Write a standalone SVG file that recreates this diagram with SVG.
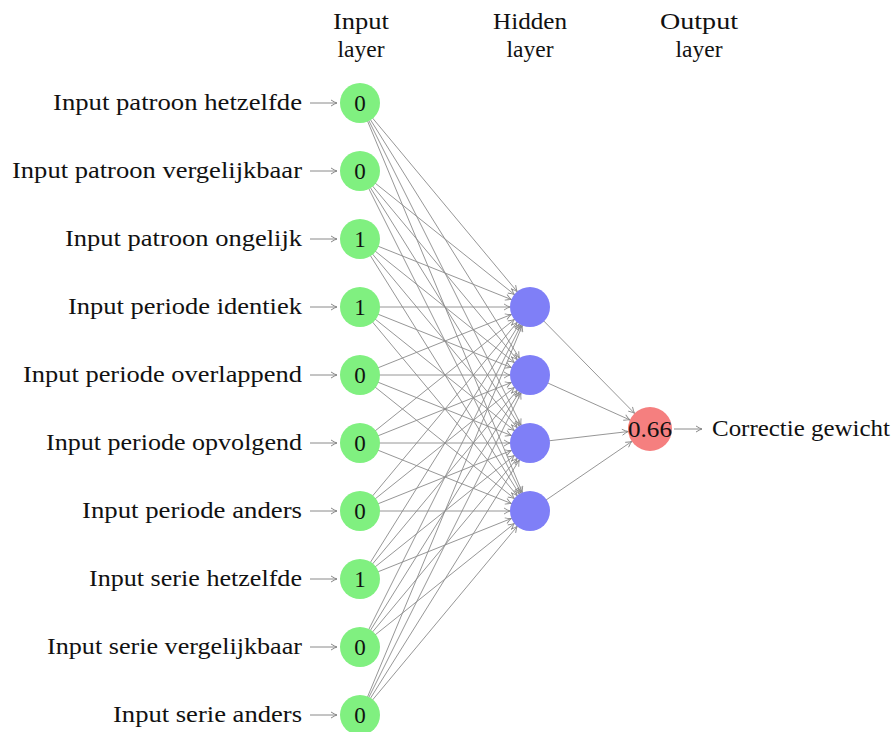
<svg xmlns="http://www.w3.org/2000/svg" width="896" height="732" viewBox="0 0 896 732">
<style>
text{font-family:"Liberation Serif","DejaVu Serif",serif;fill:#111;}
.lbl{font-size:23px;text-anchor:end;}
.hdr{font-size:23px;text-anchor:middle;}
.val{font-size:23px;text-anchor:middle;}
.e{stroke:#8a8a8a;stroke-width:0.9;fill:none;marker-end:url(#ah);}
.eo{stroke:#8a8a8a;stroke-width:0.9;fill:none;marker-end:url(#ah2);}
.io{stroke:#8a8a8a;stroke-width:1;fill:none;marker-end:url(#ah0);}
.in{fill:#80f080;}
.hid{fill:#7f7ff7;}
.out{fill:#f57f7f;}
</style>
<defs>
<marker id="ah" markerUnits="userSpaceOnUse" refX="20" refY="0" markerWidth="10" markerHeight="10" orient="auto" overflow="visible">
<path d="M-6,-3 Q-2,-0.5 0,0 Q-2,0.5 -6,3" fill="none" stroke="#8a8a8a" stroke-width="0.9"/>
</marker>
<marker id="ah2" markerUnits="userSpaceOnUse" refX="22" refY="0" markerWidth="10" markerHeight="10" orient="auto" overflow="visible">
<path d="M-6,-3 Q-2,-0.5 0,0 Q-2,0.5 -6,3" fill="none" stroke="#8a8a8a" stroke-width="0.9"/>
</marker>
<marker id="ah0" markerUnits="userSpaceOnUse" refX="0" refY="0" markerWidth="10" markerHeight="10" orient="auto" overflow="visible">
<path d="M-6,-3 Q-2,-0.5 0,0 Q-2,0.5 -6,3" fill="none" stroke="#8a8a8a" stroke-width="1"/>
</marker>
</defs>
<g id="headers">
<text class="hdr" x="361" y="29" textLength="56" lengthAdjust="spacingAndGlyphs">Input</text><text class="hdr" x="361" y="57" textLength="47" lengthAdjust="spacingAndGlyphs">layer</text>
<text class="hdr" x="530" y="29" textLength="74" lengthAdjust="spacingAndGlyphs">Hidden</text><text class="hdr" x="530" y="57" textLength="47" lengthAdjust="spacingAndGlyphs">layer</text>
<text class="hdr" x="699" y="29" textLength="78" lengthAdjust="spacingAndGlyphs">Output</text><text class="hdr" x="699" y="57" textLength="47" lengthAdjust="spacingAndGlyphs">layer</text>
</g>
<g id="connectors">
<g id="in-hidden">
<path class="e" d="M360,103L530,307"/><path class="e" d="M360,103L530,375"/><path class="e" d="M360,103L530,443"/><path class="e" d="M360,103L530,511"/>
<path class="e" d="M360,171L530,307"/><path class="e" d="M360,171L530,375"/><path class="e" d="M360,171L530,443"/><path class="e" d="M360,171L530,511"/>
<path class="e" d="M360,239L530,307"/><path class="e" d="M360,239L530,375"/><path class="e" d="M360,239L530,443"/><path class="e" d="M360,239L530,511"/>
<path class="e" d="M360,307L530,307"/><path class="e" d="M360,307L530,375"/><path class="e" d="M360,307L530,443"/><path class="e" d="M360,307L530,511"/>
<path class="e" d="M360,375L530,307"/><path class="e" d="M360,375L530,375"/><path class="e" d="M360,375L530,443"/><path class="e" d="M360,375L530,511"/>
<path class="e" d="M360,443L530,307"/><path class="e" d="M360,443L530,375"/><path class="e" d="M360,443L530,443"/><path class="e" d="M360,443L530,511"/>
<path class="e" d="M360,511L530,307"/><path class="e" d="M360,511L530,375"/><path class="e" d="M360,511L530,443"/><path class="e" d="M360,511L530,511"/>
<path class="e" d="M360,579L530,307"/><path class="e" d="M360,579L530,375"/><path class="e" d="M360,579L530,443"/><path class="e" d="M360,579L530,511"/>
<path class="e" d="M360,647L530,307"/><path class="e" d="M360,647L530,375"/><path class="e" d="M360,647L530,443"/><path class="e" d="M360,647L530,511"/>
<path class="e" d="M360,715L530,307"/><path class="e" d="M360,715L530,375"/><path class="e" d="M360,715L530,443"/><path class="e" d="M360,715L530,511"/>
</g>
<g id="hidden-out">
<path class="eo" d="M530,307L650,429"/><path class="eo" d="M530,375L650,429"/><path class="eo" d="M530,443L650,429"/><path class="eo" d="M530,511L650,429"/>
</g>
<g id="io-arrows">
<path class="io" d="M310,103H337"/><path class="io" d="M310,171H337"/><path class="io" d="M310,239H337"/><path class="io" d="M310,307H337"/><path class="io" d="M310,375H337"/>
<path class="io" d="M310,443H337"/><path class="io" d="M310,511H337"/><path class="io" d="M310,579H337"/><path class="io" d="M310,647H337"/><path class="io" d="M310,715H337"/>
<path class="io" d="M674,429H702"/>
</g>
</g>
<g id="input-nodes">
<g id="in1"><text class="lbl" x="302" y="110" textLength="249" lengthAdjust="spacingAndGlyphs">Input patroon hetzelfde</text><circle class="in" cx="360" cy="103" r="20"/><text class="val" x="360" y="111">0</text></g>
<g id="in2"><text class="lbl" x="302" y="178" textLength="290" lengthAdjust="spacingAndGlyphs">Input patroon vergelijkbaar</text><circle class="in" cx="360" cy="171" r="20"/><text class="val" x="360" y="179">0</text></g>
<g id="in3"><text class="lbl" x="302" y="246" textLength="237" lengthAdjust="spacingAndGlyphs">Input patroon ongelijk</text><circle class="in" cx="360" cy="239" r="20"/><text class="val" x="360" y="247">1</text></g>
<g id="in4"><text class="lbl" x="302" y="314" textLength="234" lengthAdjust="spacingAndGlyphs">Input periode identiek</text><circle class="in" cx="360" cy="307" r="20"/><text class="val" x="360" y="315">1</text></g>
<g id="in5"><text class="lbl" x="302" y="382" textLength="279" lengthAdjust="spacingAndGlyphs">Input periode overlappend</text><circle class="in" cx="360" cy="375" r="20"/><text class="val" x="360" y="383">0</text></g>
<g id="in6"><text class="lbl" x="302" y="450" textLength="256" lengthAdjust="spacingAndGlyphs">Input periode opvolgend</text><circle class="in" cx="360" cy="443" r="20"/><text class="val" x="360" y="451">0</text></g>
<g id="in7"><text class="lbl" x="302" y="518" textLength="220" lengthAdjust="spacingAndGlyphs">Input periode anders</text><circle class="in" cx="360" cy="511" r="20"/><text class="val" x="360" y="519">0</text></g>
<g id="in8"><text class="lbl" x="302" y="586" textLength="213" lengthAdjust="spacingAndGlyphs">Input serie hetzelfde</text><circle class="in" cx="360" cy="579" r="20"/><text class="val" x="360" y="587">1</text></g>
<g id="in9"><text class="lbl" x="302" y="654" textLength="255" lengthAdjust="spacingAndGlyphs">Input serie vergelijkbaar</text><circle class="in" cx="360" cy="647" r="20"/><text class="val" x="360" y="655">0</text></g>
<g id="in10"><text class="lbl" x="302" y="722" textLength="189" lengthAdjust="spacingAndGlyphs">Input serie anders</text><circle class="in" cx="360" cy="715" r="20"/><text class="val" x="360" y="723">0</text></g>
</g>
<g id="hidden-nodes">
<circle id="h1" class="hid" cx="530" cy="307" r="20"/>
<circle id="h2" class="hid" cx="530" cy="375" r="20"/>
<circle id="h3" class="hid" cx="530" cy="443" r="20"/>
<circle id="h4" class="hid" cx="530" cy="511" r="20"/>
</g>
<g id="output-node">
<circle class="out" cx="650" cy="429" r="22"/>
<text class="val" x="650" y="437" textLength="44" lengthAdjust="spacingAndGlyphs">0.66</text>
<text x="712" y="436" style="font-size:23px" textLength="178" lengthAdjust="spacingAndGlyphs">Correctie gewicht</text>
</g>
</svg>
